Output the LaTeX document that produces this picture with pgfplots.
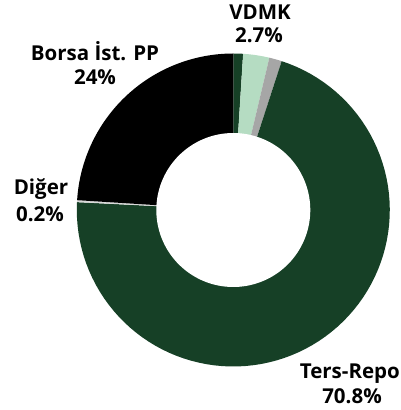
\documentclass[border=0pt]{standalone}
\usepackage{pgfplots}
\pgfplotsset{compat=1.18}
\usepackage{fontspec}
\setmainfont{Open Sans}

\definecolor{dgreen}{HTML}{164026}
\definecolor{lgreen}{HTML}{B5DCC2}
\definecolor{mgray}{HTML}{A6A6A6}
\definecolor{lgray}{HTML}{D9D9D9}

% centre and radii of the ring, in pixel units
\def\cx{233.3}
\def\cy{-210}
\def\ro{156.5}
\def\ri{77}

% slice from cumulative share #1 to #2 (percent, clockwise from 12 o'clock)
\newcommand\slice[3]{%
  \addplot[fill=#3, draw=none, domain={90-3.6*#2}:{90-3.6*#1}, samples=90]
    ({\cx+\ro*cos(x)},{\cy+\ro*sin(x)}) -- (axis cs:\cx,\cy) -- cycle;
}

\begin{document}
\begin{tikzpicture}
\begin{axis}[
  hide axis, scale only axis,
  width=401pt, height=410pt,
  xmin=0, xmax=401, ymin=-410, ymax=0,
  at={(0,0)}, anchor=south west,
  clip=false
]
% shares: other green 1.0, VDMK 2.7, grey 1.3, Ters-Repo 70.8, Diger 0.2, Borsa 24.0
\slice{0}{1.0}{dgreen}
\slice{1.0}{3.7}{lgreen}
\slice{3.7}{5.0}{mgray}
\slice{5.0}{75.8}{dgreen}
\slice{75.8}{76.0}{lgray}
\slice{76.0}{100}{black}
\addplot[fill=white, draw=none, domain=0:360, samples=140]
  ({\cx+\ri*cos(x)},{\cy+\ri*sin(x)}) -- cycle;

\begin{scope}[every node/.style={font=\fontsize{20.5}{24}\selectfont\bfseries, anchor=base, inner sep=0pt}]
\node at (axis cs:260,-19.3) {VDMK};
\node at (axis cs:259,-42.7) {2.7\%};
\node at (axis cs:95,-60.7) {Borsa İst. PP};
\node at (axis cs:95,-85) {24\%};
\node at (axis cs:41,-195) {Diğer};
\node at (axis cs:40,-221.7) {0.2\%};
\node[anchor=base east] at (axis cs:400,-378.3) {Ters-Repo};
\node at (axis cs:352,-403.3) {70.8\%};
\end{scope}
\end{axis}
\pgfresetboundingbox
\useasboundingbox (0,0) rectangle (401pt,410pt);
\end{tikzpicture}
\end{document}
